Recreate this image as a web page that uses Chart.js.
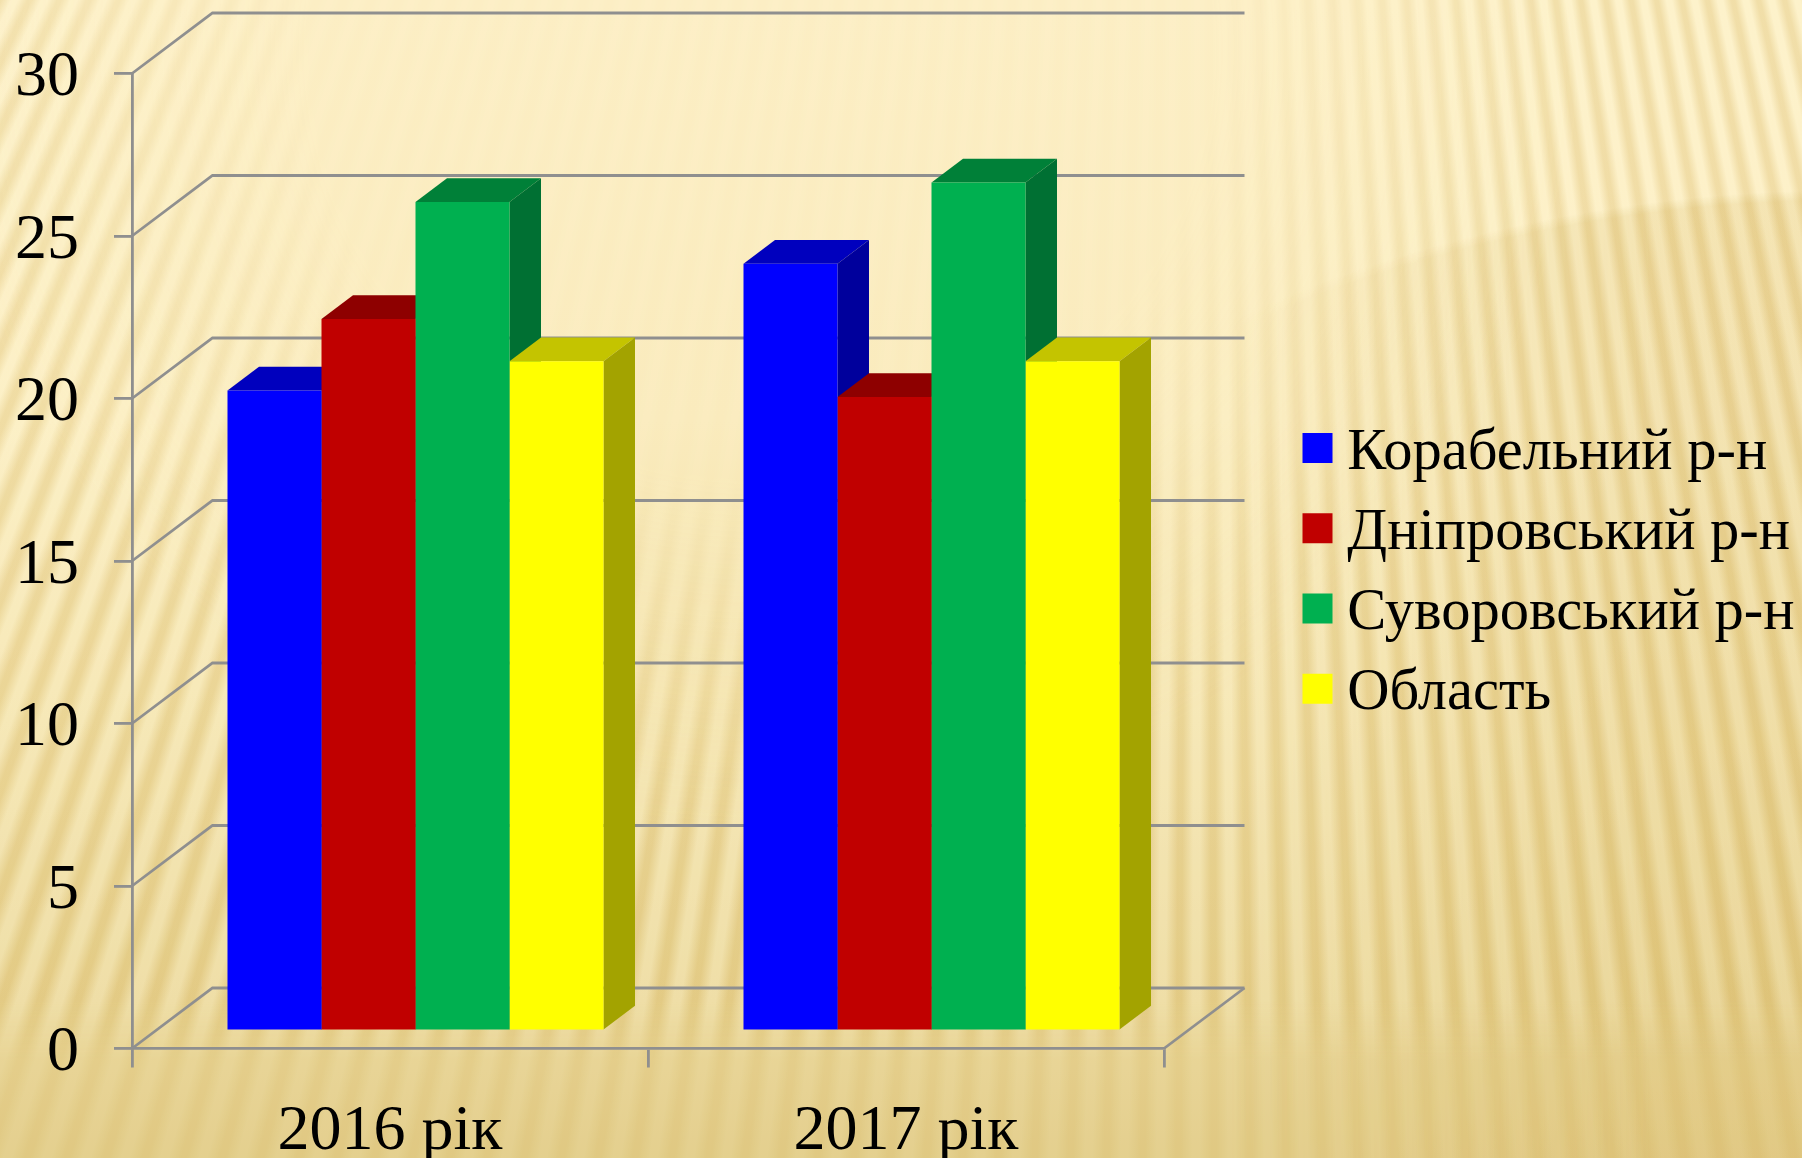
<!DOCTYPE html>
<html>
<head>
<meta charset="utf-8">
<title>Chart</title>
<script src="https://cdn.jsdelivr.net/npm/chart.js@4"></script>
<style>
    html, body { margin: 0; padding: 0; width: 1802px; height: 1158px; overflow: hidden; background: #f6e7b6; }
    .layer { position: absolute; left: 0; top: 0; width: 1802px; height: 1158px; }
    #bg-base {
        background: linear-gradient(180deg, #fdf0c7 0, #fbedc0 420px, #f3e2ab 720px, #e9d595 1000px, #e2cc87 1158px);
    }
    /* fan of stripes, fades out behind the top of the plot and at the bottom */
    #bg-stripes {
        background: repeating-conic-gradient(from 180deg at 1200px -2500px,
            rgba(255, 248, 215, .28) 0deg, rgba(255, 248, 215, .28) .12deg,
            rgba(212, 178, 92, .28) .3deg, rgba(212, 178, 92, .28) .38deg,
            rgba(255, 248, 215, .28) .5625deg);
        -webkit-mask-image:
            radial-gradient(ellipse 820px 780px at 760px 50px, rgba(0, 0, 0, .08) 55%, #000 100%),
            linear-gradient(180deg, #000 1000px, rgba(0, 0, 0, .35) 1060px);
        -webkit-mask-composite: source-in;
        mask-composite: intersect;
    }
    /* big soft arc at the right */
    #bg-arc {
        background: radial-gradient(ellipse 1170px 860px at 1850px 1050px,
            rgba(214, 182, 100, .3) 0, rgba(214, 182, 100, .3) 98.8%, rgba(214, 182, 100, 0) 100%);
        -webkit-mask-image: linear-gradient(90deg, transparent 1230px, #000 1650px);
    }
    canvas { position: absolute; left: 0; top: 0; }
</style>
</head>
<body>
<div class="layer" id="bg-base"></div>
<div class="layer" id="bg-arc"></div>
<div class="layer" id="bg-stripes"></div>
<canvas id="chart" width="1802" height="1158"></canvas>
<script>
const categories = ['2016 рік', '2017 рік'];
const korabelnyi = [19.7, 23.6];
const dniprovskyi = [21.9, 19.5];
const suvorovskyi = [25.5, 26.1];
const oblast = [20.6, 20.6];

const axisGray = '#8f8f8f';
const fontFamily = '"Liberation Serif", "Times New Roman", serif';

// depth of the 3d box: wall relative to the axis plane, bar relative to the axis plane
const wallDx = 80.5, wallDy = 60.5;
const barDx = 25.5, barDy = 17.7;
const sideDx = 31.5, sideDy = 23.7;

function poly(ctx, color, points) {
    ctx.fillStyle = color;
    ctx.beginPath();
    points.forEach((p, i) => i ? ctx.lineTo(p[0], p[1]) : ctx.moveTo(p[0], p[1]));
    ctx.closePath();
    ctx.fill();
}

const box3d = {
    id: 'box3d',
    afterLayout(chart) {
        // legend sits to the right of the plot, out of the layout flow
        const legend = chart.legend;
        legend.left = 1247.3;
        legend.right = 1802;
        legend.top = 349;
        legend.bottom = 1000;
    },
    beforeDatasetsDraw(chart) {
        const ctx = chart.ctx;
        const { x, y } = chart.scales;
        const left = x.left, right = x.right;

        ctx.save();
        ctx.strokeStyle = axisGray;
        ctx.lineWidth = 2.8;
        y.ticks.forEach(t => {
            const py = y.getPixelForValue(t.value);
            ctx.beginPath();
            ctx.moveTo(left, py);
            ctx.lineTo(left + wallDx, py - wallDy);
            ctx.lineTo(right + wallDx, py - wallDy);
            ctx.stroke();
        });
        // right edge of the floor
        const py0 = y.getPixelForValue(0);
        ctx.beginPath();
        ctx.moveTo(right, py0);
        ctx.lineTo(right + wallDx, py0 - wallDy);
        ctx.stroke();
        ctx.restore();

        // bars stand inside the box, so shift the whole dataset layer
        ctx.save();
        ctx.translate(barDx, -barDy);

        // tops and sides go left to right, the library paints the fronts over them afterwards
        chart.data.datasets.forEach((ds, i) => {
            chart.getDatasetMeta(i).data.forEach(bar => {
                const l = bar.x - bar.width / 2, r = bar.x + bar.width / 2;
                poly(ctx, ds.topColor, [[l, bar.y], [l + sideDx, bar.y - sideDy], [r + sideDx, bar.y - sideDy], [r, bar.y]]);
                poly(ctx, ds.sideColor, [[r, bar.y], [r + sideDx, bar.y - sideDy], [r + sideDx, bar.base - sideDy], [r, bar.base]]);
            });
        });
    },
    afterDatasetsDraw(chart) {
        chart.ctx.restore();
    }
};

function makeDataset(label, data, color, topColor, sideColor) {
    return {
        label: label,
        data: data,
        backgroundColor: color,
        topColor: topColor,
        sideColor: sideColor,
        borderWidth: 0,
        clip: false,
        pointStyle: 'rect',
        categoryPercentage: 0.7287,
        barPercentage: 1
    };
}

new Chart(document.getElementById('chart'), {
    type: 'bar',
    plugins: [box3d],
    data: {
        labels: categories,
        datasets: [
            makeDataset('Корабельний р-н', korabelnyi, '#0000ff', '#0000be', '#00009c'),
            makeDataset('Дніпровський р-н', dniprovskyi, '#c00000', '#8e0000', '#7a0000'),
            makeDataset('Суворовський р-н', suvorovskyi, '#00b050', '#008038', '#007033'),
            makeDataset('Область', oblast, '#ffff00', '#c4c400', '#a3a300')
        ]
    },
    options: {
        responsive: false,
        animation: false,
        events: [],
        layout: { padding: { left: 0, top: 73.5, right: 638, bottom: 0 } },
        plugins: {
            tooltip: { enabled: false },
            title: { display: false },
            legend: {
                position: 'chartArea',
                align: 'start',
                labels: {
                    usePointStyle: true,
                    boxWidth: 1,
                    boxHeight: 30,
                    padding: 69.7,
                    color: '#000',
                    font: { family: fontFamily, size: 58.5, lineHeight: 0.09 },
                    // blank first line drops the text a bit below the centre of its square
                    generateLabels(chart) {
                        return Chart.defaults.plugins.legend.labels.generateLabels(chart)
                            .map(item => ({ ...item, text: ['', item.text] }));
                    }
                }
            }
        },
        scales: {
            x: {
                afterFit(scale) { scale.height = 109.5; },
                grid: { offset: true, drawOnChartArea: false, color: axisGray, lineWidth: 2.8, tickLength: 19 },
                border: { color: axisGray, width: 2.8 },
                ticks: { color: '#000', padding: 33, maxRotation: 0, font: { family: fontFamily, size: 64, lineHeight: 1 } }
            },
            y: {
                min: 0,
                max: 30,
                afterFit(scale) { scale.width = 132; },
                grid: { drawOnChartArea: false, color: axisGray, lineWidth: 2.8, tickLength: 18 },
                border: { color: axisGray, width: 2.8 },
                ticks: {
                    stepSize: 5,
                    color: '#000',
                    padding: 35,
                    // blank first line pushes the number down a little, half of lineHeight
                    callback: value => ['', String(value)],
                    font: { family: fontFamily, size: 64, lineHeight: 0.15 }
                }
            }
        }
    }
});
</script>
</body>
</html>
